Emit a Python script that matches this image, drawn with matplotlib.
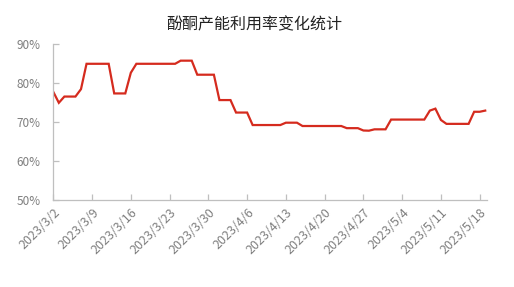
import matplotlib
matplotlib.use("Agg")
import matplotlib.pyplot as plt
import numpy as np
import pandas as pd

plt.rcParams['font.family'] = ['Noto Sans CJK SC', 'DejaVu Sans']

title = "酚酮产能利用率变化统计"
start_date = "2023-03-02"
# daily utilization rate (%)
values = [
    77.8, 75.0, 76.6, 76.6, 76.6, 78.5, 85.0, 85.0, 85.0, 85.0,   # 3/2-3/11
    85.0, 77.4, 77.4, 77.4, 82.7, 85.0, 85.0, 85.0, 85.0, 85.0,   # 3/12-3/21
    85.0, 85.0, 85.0, 85.8, 85.8, 85.8, 82.2, 82.2, 82.2, 82.2,   # 3/22-3/31
    75.7, 75.7, 75.7, 72.5, 72.5, 72.5, 69.3, 69.3, 69.3, 69.3,   # 4/1-4/10
    69.3, 69.3, 69.9, 69.9, 69.9, 69.05, 69.05, 69.05, 69.05, 69.05,  # 4/11-4/20
    69.05, 69.05, 69.05, 68.5, 68.5, 68.5, 67.9, 67.85, 68.2, 68.2,  # 4/21-4/30
    68.2, 70.7, 70.7, 70.7, 70.7, 70.7, 70.7, 70.7, 73.0, 73.5,   # 5/1-5/10
    70.6, 69.6, 69.6, 69.6, 69.6, 69.6, 72.7, 72.7, 73.0,         # 5/11-5/19
]
dates = pd.date_range(start_date, periods=len(values), freq="D")
tick_dates = pd.date_range(start_date, "2023-05-18", freq="7D")
tick_labels = [f"{d.year}/{d.month}/{d.day}" for d in tick_dates]
yticks = [50, 60, 70, 80, 90]

fig = plt.figure(figsize=(5.14, 2.87), dpi=100)
ax = fig.add_axes([0.1037, 0.302, 0.843, 0.5437])
ax.plot(dates, values, color="#d52b1e", linewidth=1.6, solid_joinstyle="miter")

ax.set_xlim(dates[0], dates[-1] + pd.Timedelta(hours=6))
ax.set_ylim(50, 90)
ax.set_yticks(yticks)
ax.set_yticklabels([f"{v}%" for v in yticks])
ax.set_xticks(tick_dates)
ax.set_xticklabels(tick_labels, rotation=45, ha="right", rotation_mode="anchor")

gray = "#bfbfbf"
for s in ["top", "right"]:
    ax.spines[s].set_visible(False)
for s in ["left", "bottom"]:
    ax.spines[s].set_color(gray)
    ax.spines[s].set_linewidth(0.9)
ax.tick_params(axis="both", direction="in", color=gray, length=4, width=0.9,
               labelcolor="#7f7f7f")
ax.tick_params(axis="y", pad=9, labelsize=8.5)
ax.tick_params(axis="x", pad=4, labelsize=9)

fig.text(0.494, 0.915, title, ha="center", va="center", fontsize=11.5, color="#222222")

fig.savefig("out.png", dpi=100)
